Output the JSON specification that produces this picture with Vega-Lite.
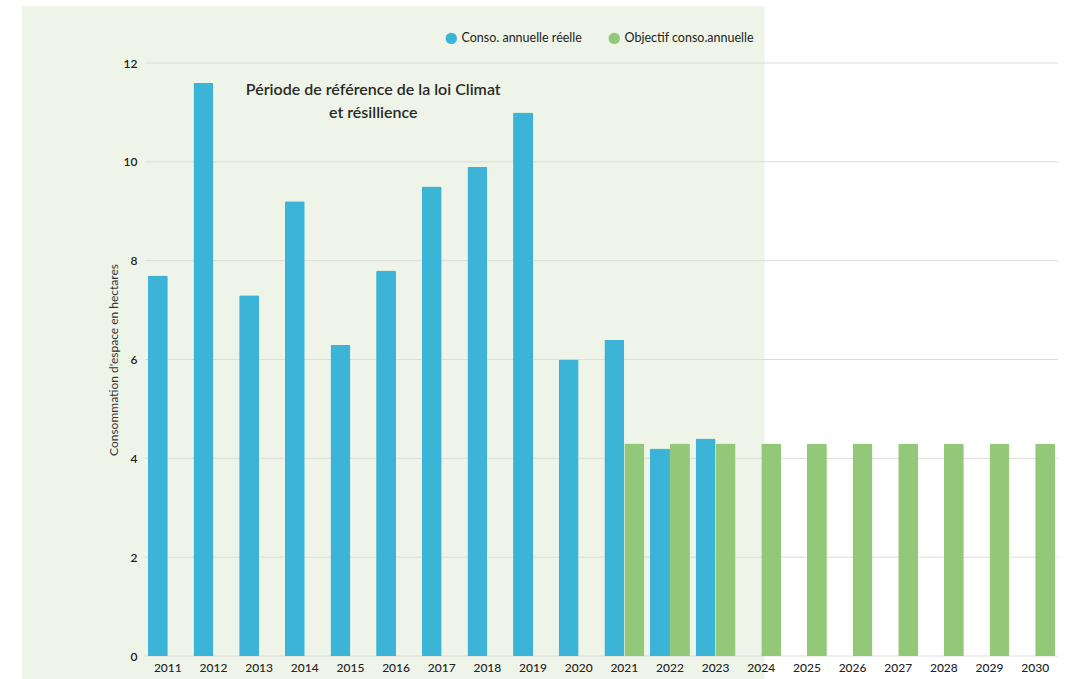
{
  "$schema": "https://vega.github.io/schema/vega-lite/v6.json",
  "width": 913,
  "height": 593,
  "autosize": {"type": "none"},
  "padding": {"left": 145, "top": 63, "right": 8, "bottom": 23},
  "background": "#ffffff",
  "config": {
    "view": {"stroke": null},
    "font": "Lato",
    "axis": {"labelFont": "Lato", "titleFont": "Lato"},
    "legend": {"labelFont": "Lato"}
  },
  "datasets": {
    "bars": [
      {"annee": "2011", "serie": "Conso. annuelle réelle", "valeur": 7.7},
      {"annee": "2012", "serie": "Conso. annuelle réelle", "valeur": 11.6},
      {"annee": "2013", "serie": "Conso. annuelle réelle", "valeur": 7.3},
      {"annee": "2014", "serie": "Conso. annuelle réelle", "valeur": 9.2},
      {"annee": "2015", "serie": "Conso. annuelle réelle", "valeur": 6.3},
      {"annee": "2016", "serie": "Conso. annuelle réelle", "valeur": 7.8},
      {"annee": "2017", "serie": "Conso. annuelle réelle", "valeur": 9.5},
      {"annee": "2018", "serie": "Conso. annuelle réelle", "valeur": 9.9},
      {"annee": "2019", "serie": "Conso. annuelle réelle", "valeur": 11.0},
      {"annee": "2020", "serie": "Conso. annuelle réelle", "valeur": 6.0},
      {"annee": "2021", "serie": "Conso. annuelle réelle", "valeur": 6.4},
      {"annee": "2022", "serie": "Conso. annuelle réelle", "valeur": 4.2},
      {"annee": "2023", "serie": "Conso. annuelle réelle", "valeur": 4.4},
      {"annee": "2021", "serie": "Objectif conso.annuelle", "valeur": 4.3},
      {"annee": "2022", "serie": "Objectif conso.annuelle", "valeur": 4.3},
      {"annee": "2023", "serie": "Objectif conso.annuelle", "valeur": 4.3},
      {"annee": "2024", "serie": "Objectif conso.annuelle", "valeur": 4.3},
      {"annee": "2025", "serie": "Objectif conso.annuelle", "valeur": 4.3},
      {"annee": "2026", "serie": "Objectif conso.annuelle", "valeur": 4.3},
      {"annee": "2027", "serie": "Objectif conso.annuelle", "valeur": 4.3},
      {"annee": "2028", "serie": "Objectif conso.annuelle", "valeur": 4.3},
      {"annee": "2029", "serie": "Objectif conso.annuelle", "valeur": 4.3},
      {"annee": "2030", "serie": "Objectif conso.annuelle", "valeur": 4.3}
    ],
    "periode": [{"debut": 2007.8, "fin": 2024.07, "haut": 13.15, "bas": -0.5}],
    "grille": [{"v": 0}, {"v": 2}, {"v": 4}, {"v": 6}, {"v": 8}, {"v": 10}, {"v": 12}],
    "note": [{"x": 2015.5, "y": 11.45, "label": "Période de référence de la loi Climat"}, {"x": 2015.5, "y": 10.98, "label": "et résillience"}]
  },
  "resolve": {"scale": {"x": "independent"}, "axis": {"x": "independent"}},
  "layer": [
    {
      "data": {"name": "periode"},
      "mark": {"type": "rect", "color": "#eef5e8", "clip": false},
      "encoding": {
        "x": {"field": "debut", "type": "quantitative", "scale": {"domain": [2010.5, 2030.5], "nice": false, "zero": false}, "axis": null},
        "x2": {"field": "fin"},
        "y": {"field": "haut", "type": "quantitative", "scale": {"domain": [0, 12], "nice": false}},
        "y2": {"field": "bas"}
      }
    },
    {
      "data": {"name": "grille"},
      "mark": {"type": "rule", "color": "#dcdcd8", "strokeWidth": 1},
      "encoding": {
        "y": {"field": "v", "type": "quantitative"}
      }
    },
    {
      "data": {"name": "bars"},
      "mark": {"type": "bar", "cornerRadiusTopLeft": 1.5, "cornerRadiusTopRight": 1.5},
      "encoding": {
        "x": {
          "field": "annee", "type": "nominal",
          "scale": {"paddingInner": 0.125, "paddingOuter": 0.0625},
          "axis": {"title": null, "labelAngle": 0, "ticks": false, "domain": false, "zindex": 2, "labelPadding": 6, "labelFontSize": 12, "labelColor": "#222222", "labelFontWeight": 500}
        },
        "xOffset": {"field": "serie", "type": "nominal", "scale": {"domain": ["Conso. annuelle réelle", "Objectif conso.annuelle"], "paddingInner": 0, "paddingOuter": 0}},
        "y": {
          "field": "valeur", "type": "quantitative",
          "axis": {"title": "Consommation d'espace en hectares", "values": [0, 2, 4, 6, 8, 10, 12], "grid": false, "ticks": false, "domain": false, "zindex": 2, "labelPadding": 8, "labelFontSize": 12, "labelColor": "#222222", "labelFontWeight": 600, "titleFontSize": 12, "titleFontWeight": "normal", "titleColor": "#333333", "titlePadding": 3}
        },
        "color": {
          "field": "serie", "type": "nominal",
          "scale": {"domain": ["Conso. annuelle réelle", "Objectif conso.annuelle"], "range": ["#3cb4d8", "#93c878"]},
          "legend": {"title": null, "orient": "none", "direction": "horizontal", "legendX": 300, "legendY": -31, "symbolType": "circle", "symbolSize": 130, "symbolStrokeWidth": 0, "labelFontSize": 12.5, "labelColor": "#222222", "columnPadding": 26, "symbolOpacity": 1, "zindex": 2}
        }
      }
    },
    {
      "data": {"name": "note"},
      "mark": {"type": "text", "fontSize": 16, "fontWeight": 600, "color": "#2a2a2a", "align": "center", "baseline": "middle", "clip": false},
      "encoding": {
        "x": {"field": "x", "type": "quantitative", "scale": {"domain": [2010.5, 2030.5], "nice": false, "zero": false}, "axis": null},
        "y": {"field": "y", "type": "quantitative"},
        "text": {"field": "label"}
      }
    }
  ]
}
